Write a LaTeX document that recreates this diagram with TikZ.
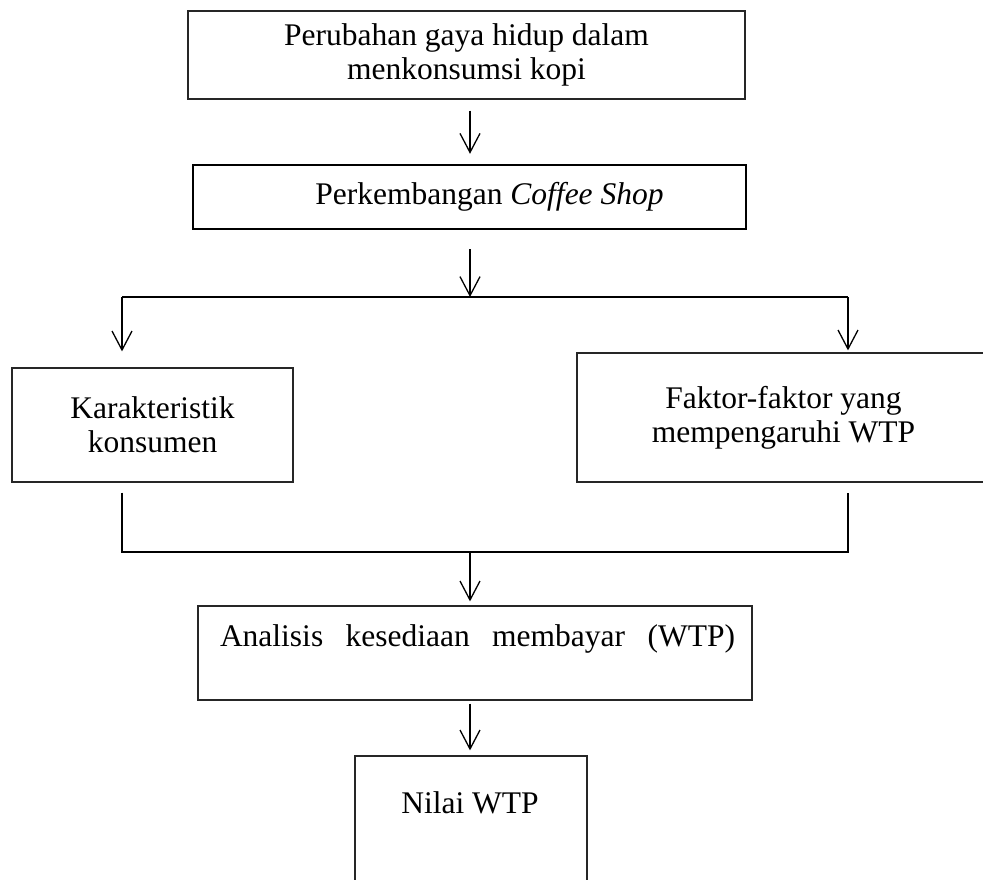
\documentclass[tikz,border=0pt]{standalone}
\usepackage{fontspec}
\setmainfont{Liberation Serif}
\usetikzlibrary{arrows.meta}
\begin{document}
\begin{tikzpicture}[x=1pt,y=-1pt,
  box/.style={draw=black!85, line width=1.2pt, rectangle, inner sep=0pt},
  txt/.style={font=\fontsize{31.5}{34}\selectfont, align=center, inner sep=0pt},
  arr/.style={-{Straight Barb[length=19pt,width=20pt,line width=1.3pt]}, line width=1.4pt},
  conn/.style={line width=1.6pt}]
\useasboundingbox (0,0) rectangle (983,880);
\clip (0,0) rectangle (983,880);
% boxes
\node[box, txt, minimum width=557pt, minimum height=88pt] (top) at (466.5,55)
  {Perubahan gaya hidup dalam\\menkonsumsi kopi};
\node[box, draw=black, line width=2.4pt, minimum width=553pt, minimum height=64pt] (b2) at (469.5,197) {};
\node[txt] (t2) at ([xshift=20pt]b2.center) {Perkembangan \textit{Coffee Shop}};
\node[box, txt, minimum width=281pt, minimum height=114pt] (left) at (152.5,425)
  {Karakteristik\\konsumen};
\node[box, txt, minimum width=413pt, minimum height=129pt] (right) at (783.5,417.5)
  {Faktor-faktor yang\\mempengaruhi WTP};
\node[box, minimum width=554pt, minimum height=94pt] (an) at (475,653) {};
\node[txt, anchor=base] (t4) at (477.5,646)
  {\hbox to 515pt{Analisis\hfill kesediaan\hfill membayar\hfill (WTP)}};
\node[box, minimum width=232pt, minimum height=144pt] (nilai) at (471,828) {};
\node[txt, anchor=base] (t5) at (470,813) {Nilai WTP};
% coordinates
\coordinate (split) at (470,297);
\coordinate (sl) at (122,297);
\coordinate (sr) at (848,297);
\coordinate (jl) at (122,552);
\coordinate (jr) at (848,552);
\coordinate (join) at (470,552);
% connectors
\draw[arr, shorten <=11pt, shorten >=10pt] (top.south -| split) -- (b2.north -| split);
\draw[arr, shorten <=19pt] (b2.south -| split) -- (split);
\draw[conn] (sl) -- (sr);
\draw[arr, shorten >=16pt] (sl) -- (sl |- left.north);
\draw[arr, shorten >=2pt] (sr) -- (sr |- right.north);
\draw[conn, line width=2.2pt, shorten <=10pt, shorten >=10pt] (left.south -| jl) -- (jl) -- (jr) -- (right.south -| jr);
\draw[arr, shorten >=4pt] (join) -- (an.north -| join);
\draw[arr, shorten <=3pt, shorten >=5pt] (an.south -| join) -- (nilai.north -| join);
\end{tikzpicture}
\end{document}
